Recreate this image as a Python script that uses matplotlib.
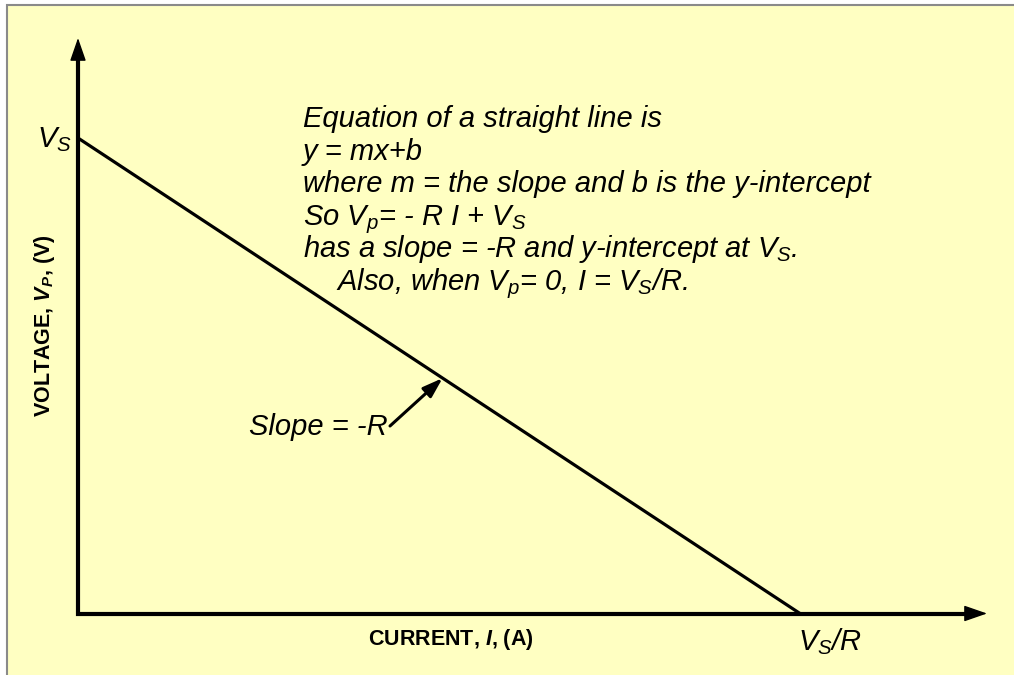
import matplotlib
matplotlib.use('Agg')
import matplotlib.pyplot as plt
from matplotlib.patches import Rectangle

# ---------------- data (V_S = 1, R = 1 units) ----------------
current = [0.0, 1.0]          # I, in units of V_S/R
voltage = [1.0, 0.0]          # V_P, in units of V_S

note_lines = [
    "Equation of a straight line is",
    "y = mx+b",
    "where m = the slope and b is the y-intercept",
    r"So $V_p$= - R I + $V_S$",
    r"has a slope = -R and y-intercept at $V_S$.",
    r"Also, when $V_p$= 0, I = $V_S$/R.",
]
slope_label = "Slope = -R"
y_label = r"VOLTAGE, $\mathbf{V_P}$, (V)"
x_label = r"CURRENT, $\mathbf{I}$, (A)"
y_tick_label = r"$V_S$"
x_tick_label = r"$V_S$/R"

# ---------------- styling ----------------
plt.rcParams.update({
    'font.family': ['Liberation Sans', 'DejaVu Sans'],
    'mathtext.fontset': 'custom',
    'mathtext.it': 'Liberation Sans:italic',
    'mathtext.rm': 'Liberation Sans:italic',
    'mathtext.bf': 'Liberation Sans:bold:italic',
})
BG = '#FFFFC2'
W, H = 1014, 675
X0, Y0 = 78, 613.5        # pixel position of the origin
SX, SY = 722, 475.5       # pixels per unit


def px(x, y):
    """image pixel -> data coords"""
    return (x - X0) / SX, (Y0 - y) / SY


fig = plt.figure(figsize=(W / 100, H / 100), dpi=100, facecolor='white')
fig.add_artist(Rectangle((7 / W, -0.05), 1.1, 1 - 5 / H + 0.05,
                         transform=fig.transFigure, facecolor=BG,
                         edgecolor='#8a8a8a', lw=1.5, zorder=-10))

ax = fig.add_axes([0, 0, 1, 1])
ax.patch.set_visible(False)
ax.set_xlim(-X0 / SX, (W - X0) / SX)
ax.set_ylim(-(H - Y0) / SY, Y0 / SY)
ax.set_axis_off()

# axes with arrows
x_tip = px(987, 0)[0]
y_tip = px(0, 38)[1]
ax.plot([0, 0, x_tip - 0.025], [y_tip - 0.035, 0, 0], color='k', lw=3,
        solid_joinstyle='miter', solid_capstyle='butt')
head = '-|>,head_length=0.72,head_width=0.25'
ax.annotate('', xy=(x_tip, 0), xytext=(x_tip - 0.03, 0),
            arrowprops=dict(arrowstyle=head, color='k', lw=1,
                            mutation_scale=20, shrinkA=0, shrinkB=0))
ax.annotate('', xy=(0, y_tip), xytext=(0, y_tip - 0.045),
            arrowprops=dict(arrowstyle=head, color='k', lw=1,
                            mutation_scale=20, shrinkA=0, shrinkB=0))

# load line
ax.plot(current, voltage, color='k', lw=2.3, solid_capstyle='butt')

# slope arrow pointing at the line
t = 0.505
hit = (current[0] + t * (current[1] - current[0]),
       voltage[0] + t * (voltage[1] - voltage[0]))
ax.annotate('', xy=hit, xytext=px(390, 426),
            arrowprops=dict(arrowstyle='-|>,head_length=0.6,head_width=0.2',
                            color='k', lw=2.2, mutation_scale=20,
                            shrinkA=0, shrinkB=0))
ax.text(*px(249, 435), slope_label, fontsize=21, style='italic',
        va='baseline', ha='left')

# note block
for i, line in enumerate(note_lines):
    x0 = 336 if i == len(note_lines) - 1 else 303
    ax.text(*px(x0, 127 + i * 32.6), line, fontsize=21, style='italic',
            va='baseline', ha='left')

# intercept labels
ax.text(*px(72, 147), y_tick_label, fontsize=21, style='italic',
        va='baseline', ha='right')
ax.text(*px(798, 650), x_tick_label, fontsize=21, style='italic',
        va='baseline', ha='left')

# axis titles
ax.text(*px(368, 645), x_label, fontsize=15.5, fontweight='bold',
        va='baseline', ha='left')
ax.text(*px(45, 326), y_label, fontsize=15.5, fontweight='bold',
        rotation=90, va='center', ha='center')

fig.savefig('out.png', dpi=100, facecolor=fig.get_facecolor())
